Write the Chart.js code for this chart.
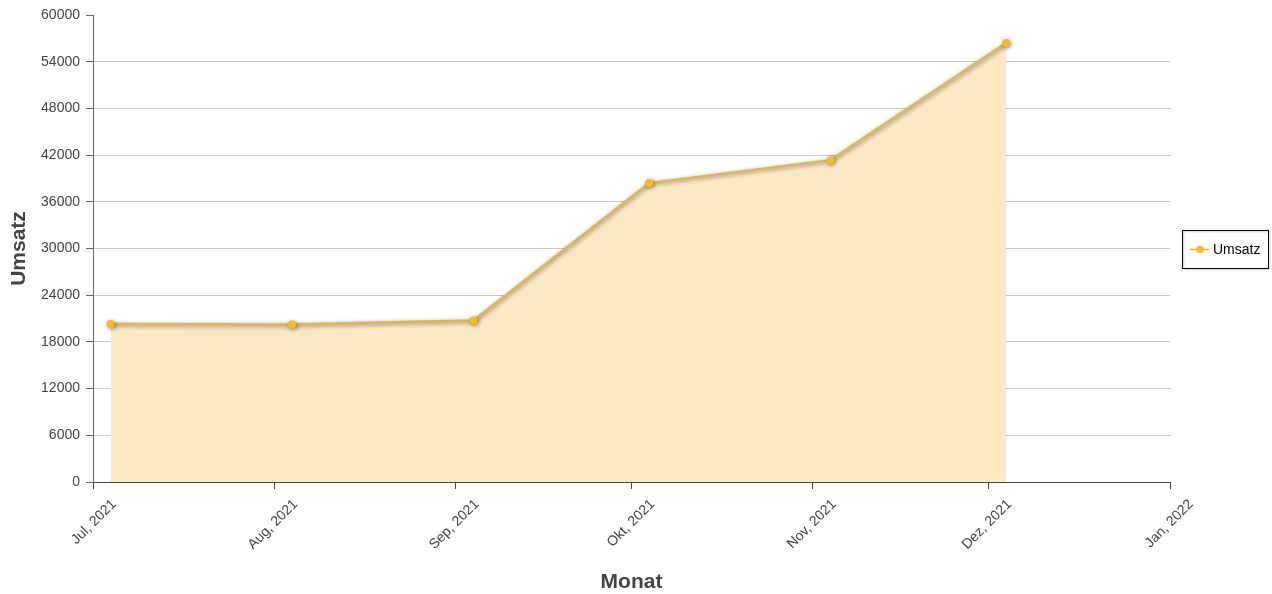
<!DOCTYPE html>
<html>
<head>
<meta charset="utf-8">
<script src="https://cdn.jsdelivr.net/npm/chart.js@4.4.1/dist/chart.umd.min.js"></script>
<style>
html,body{margin:0;padding:0;background:#fff;}
#wrap{width:1272px;height:594px;position:relative;}
</style>
</head>
<body>
<div id="wrap"><canvas id="c" width="1272" height="594"></canvas></div>
<script>
// ---- data ----
const categories = ['2021-07-04', '2021-08-04', '2021-09-04', '2021-10-04', '2021-11-04', '2021-12-04'];
const umsatz = [20300, 20250, 20750, 38400, 41350, 56400];
const monthStarts = ['2021-07-01', '2021-08-01', '2021-09-01', '2021-10-01', '2021-11-01', '2021-12-01', '2022-01-01'];
const monthLabels = ['Jul, 2021', 'Aug, 2021', 'Sep, 2021', 'Okt, 2021', 'Nov, 2021', 'Dez, 2021', 'Jan, 2022'];
const seriesName = 'Umsatz';
const xTitle = 'Monat';
const yTitle = 'Umsatz';

// ---- helpers ----
const origin = Date.UTC(2021, 6, 1);
function dayOf(s) {
  const p = s.split('-').map(Number);
  return (Date.UTC(p[0], p[1] - 1, p[2]) - origin) / 86400000;
}
const tickDays = monthStarts.map(dayOf);
const points = categories.map((c, i) => ({ x: dayOf(c), y: umsatz[i] }));

const FONT = "'Liberation Sans', Arial, Helvetica, sans-serif";
const lineColor = '#dfb55a';
const pointColor = '#fbb829';
const fillColor = 'rgb(253,232,196)';

const shadowPlugin = {
  id: 'lineShadow',
  beforeDatasetDraw(chart) {
    const ctx = chart.ctx;
    ctx.save();
    ctx.shadowColor = 'rgba(0,0,0,0.45)';
    ctx.shadowBlur = 4;
    ctx.shadowOffsetX = 1;
    ctx.shadowOffsetY = 1;
  },
  afterDatasetDraw(chart) {
    chart.ctx.restore();
  }
};

// legend drawn next to the plot (line + dot marker, framed box)
const legendPlugin = {
  id: 'customLegend',
  afterDraw(chart) {
    const ctx = chart.ctx;
    const area = chart.chartArea;
    const cy = Math.round((area.top + area.bottom) / 2);
    const left = area.right + 12;
    ctx.save();
    ctx.shadowColor = 'rgba(0,0,0,0.25)';
    ctx.shadowBlur = 2;
    ctx.shadowOffsetX = 1;
    ctx.shadowOffsetY = 1;
    ctx.strokeStyle = '#000';
    ctx.lineWidth = 1;
    ctx.strokeRect(left + 0.5, cy - 18.5, 86, 38);
    ctx.restore();
    ctx.save();
    ctx.strokeStyle = pointColor;
    ctx.lineWidth = 1.5;
    ctx.beginPath();
    ctx.moveTo(left + 8, cy + 0.5);
    ctx.lineTo(left + 27, cy + 0.5);
    ctx.stroke();
    ctx.fillStyle = pointColor;
    ctx.beginPath();
    ctx.arc(left + 18, cy + 0.5, 3.8, 0, Math.PI * 2);
    ctx.fill();
    ctx.fillStyle = '#000';
    ctx.font = "14px " + FONT;
    ctx.textBaseline = 'middle';
    ctx.textAlign = 'left';
    ctx.fillText(seriesName, left + 31, cy + 1);
    ctx.restore();
  }
};

new Chart(document.getElementById('c'), {
  type: 'line',
  data: {
    datasets: [{
      label: seriesName,
      data: points,
      borderColor: lineColor,
      borderWidth: 2.5,
      backgroundColor: fillColor,
      fill: 'origin',
      tension: 0,
      pointRadius: 4,
      pointHoverRadius: 4,
      pointBackgroundColor: pointColor,
      pointBorderColor: pointColor,
      pointBorderWidth: 0
    }]
  },
  options: {
    responsive: false,
    animation: false,
    layout: { padding: { top: 15, right: 102, left: 0, bottom: 0 } },
    plugins: {
      tooltip: { enabled: false },
      legend: { display: false }
    },
    scales: {
      x: {
        type: 'linear',
        min: tickDays[0],
        max: tickDays[tickDays.length - 1],
        afterBuildTicks(scale) {
          scale.ticks = tickDays.map(v => ({ value: v }));
        },
        afterFit(scale) { scale.height = 112; },
        ticks: {
          autoSkip: false,
          maxRotation: 45,
          minRotation: 45,
          padding: 7,
          labelOffset: 21,
          color: '#444',
          font: { family: FONT, size: 14 },
          callback(v) {
            const i = tickDays.indexOf(v);
            return i >= 0 ? monthLabels[i] : '';
          }
        },
        grid: {
          drawOnChartArea: false,
          drawTicks: true,
          tickLength: 7,
          tickColor: '#444'
        },
        border: { color: '#444', width: 1 },
        title: {
          display: true,
          text: xTitle,
          color: '#444',
          font: { family: FONT, size: 21, weight: 'bold' },
          padding: { top: 0, bottom: -1 }
        }
      },
      y: {
        min: 0,
        max: 60000,
        afterFit(scale) { scale.width = 93; },
        ticks: {
          stepSize: 6000,
          color: '#444',
          padding: 6,
          font: { family: FONT, size: 14 },
          callback: (v) => String(v)
        },
        grid: {
          tickLength: 7,
          tickColor: '#666',
          color: (c) => (c.tick && c.tick.value === 60000) ? 'rgba(0,0,0,0)' : '#c8c8c8'
        },
        border: { color: '#666', width: 1 },
        title: {
          display: true,
          text: yTitle,
          color: '#444',
          font: { family: FONT, size: 21, weight: 'bold' },
          padding: { top: 7, bottom: 0 }
        }
      }
    }
  },
  plugins: [shadowPlugin, legendPlugin]
});
</script>
</body>
</html>
